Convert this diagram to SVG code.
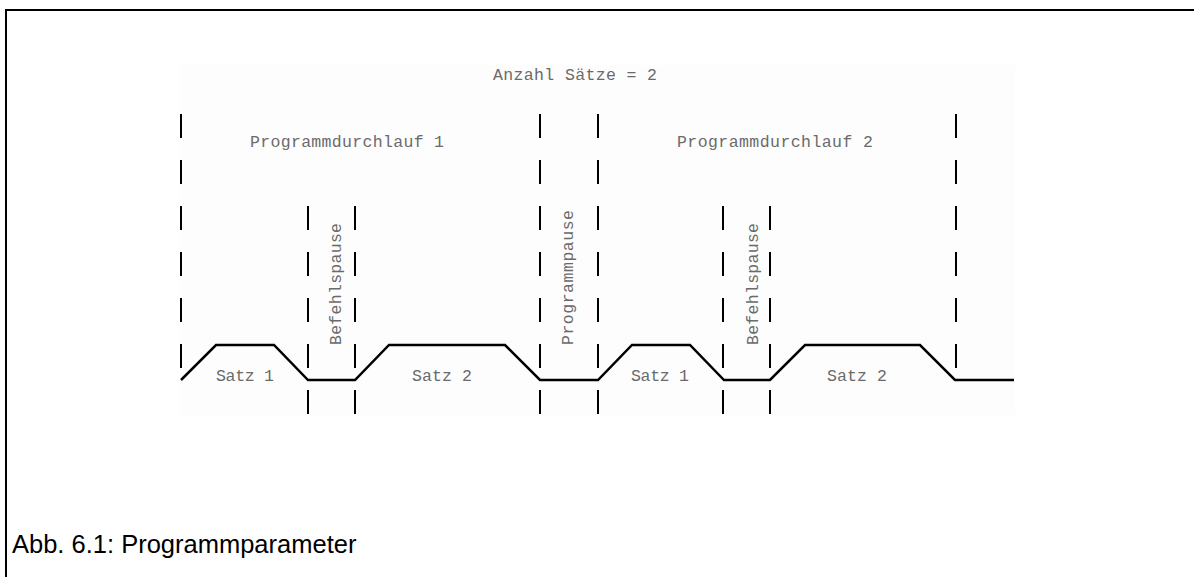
<svg xmlns="http://www.w3.org/2000/svg" width="1194" height="577" viewBox="0 0 1194 577">
<style>
.lbl{font-family:"Liberation Mono","DejaVu Sans Mono",monospace;font-size:16.5px;fill:#6a6a6a;}
.dash{stroke:#000;stroke-width:2;stroke-dasharray:24 22;fill:none;}
.wave{stroke:#000;stroke-width:2.5;fill:none;stroke-linejoin:miter;}
.cap{font-family:"Liberation Sans",Arial,sans-serif;font-size:25.5px;fill:#000;}
</style>
<rect x="0" y="0" width="1194" height="577" fill="#fff"/>
<rect x="180" y="65" width="835" height="350" fill="#fdfdfd"/>
<g id="frame">
<line x1="6" y1="10" x2="1194" y2="10" stroke="#000" stroke-width="2"/>
<line x1="6" y1="9" x2="6" y2="577" stroke="#000" stroke-width="2"/>
</g>
<g id="connectors">
<line class="dash" x1="181" y1="114" x2="181" y2="368"/>
<line class="dash" x1="308" y1="206" x2="308" y2="414"/>
<line class="dash" x1="355" y1="206" x2="355" y2="414"/>
<line class="dash" x1="540" y1="114" x2="540" y2="414"/>
<line class="dash" x1="598" y1="114" x2="598" y2="414"/>
<line class="dash" x1="723" y1="206" x2="723" y2="414"/>
<line class="dash" x1="770" y1="206" x2="770" y2="414"/>
<line class="dash" x1="956" y1="114" x2="956" y2="368"/>
<polyline class="wave" points="181,380 216,345 274,345 308,380 355,380 389,345 505,345 540,380 598,380 632,345 690,345 724,380 770,380 805,345 920,345 955,380 1014,380"/>
</g>
<g id="title"><text class="lbl" x="493" y="80" textLength="164">Anzahl Sätze = 2</text></g>
<g id="run1"><text class="lbl" x="250" y="147" textLength="194">Programmdurchlauf 1</text></g>
<g id="run2"><text class="lbl" x="677" y="147" textLength="196">Programmdurchlauf 2</text></g>
<g id="satz1a"><text class="lbl" x="216" y="381" textLength="58">Satz 1</text></g>
<g id="satz2a"><text class="lbl" x="412" y="381" textLength="60">Satz 2</text></g>
<g id="satz1b"><text class="lbl" x="631" y="381" textLength="58">Satz 1</text></g>
<g id="satz2b"><text class="lbl" x="827" y="381" textLength="60">Satz 2</text></g>
<g id="pause1"><text class="lbl" transform="translate(341,345) rotate(-90)" x="0" y="0" textLength="122">Befehlspause</text></g>
<g id="progpause"><text class="lbl" transform="translate(573,345) rotate(-90)" x="0" y="0" textLength="135">Programmpause</text></g>
<g id="pause2"><text class="lbl" transform="translate(758,345) rotate(-90)" x="0" y="0" textLength="122">Befehlspause</text></g>
<g id="caption"><text class="cap" x="12" y="553">Abb. 6.1: Programmparameter</text></g>
</svg>
